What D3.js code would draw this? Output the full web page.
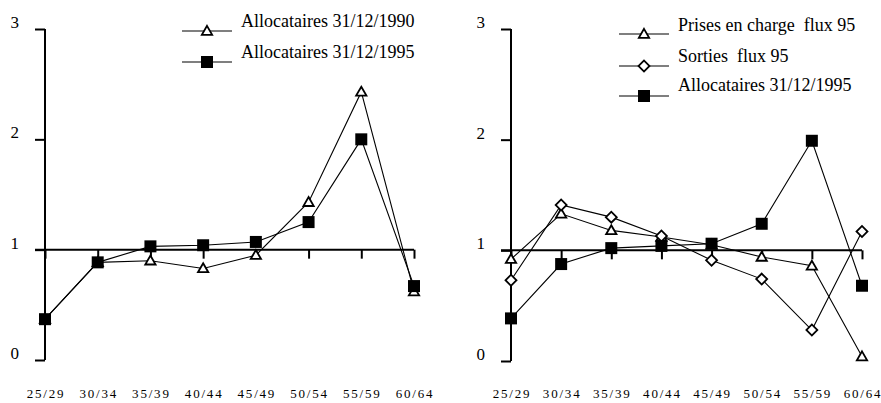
<!DOCTYPE html>
<html>
<head>
<meta charset="utf-8">
<script src="https://cdn.jsdelivr.net/npm/d3@7"></script>
<style>
  html, body { margin: 0; padding: 0; background: #fff; }
  svg { display: block; }
</style>
</head>
<body>
<svg id="chart" width="881" height="403"></svg>
<script>
// Age groups shared by both panels
const ageGroups = ["25/29", "30/34", "35/39", "40/44", "45/49", "50/54", "55/59", "60/64"];
const yTicks = [0, 1, 2, 3];

// Left panel: stock of recipients
const alloc1990 = [0.37, 0.885, 0.90, 0.83, 0.95, 1.43, 2.43, 0.62];
const alloc1995 = [0.37, 0.885, 1.03, 1.04, 1.07, 1.25, 2.00, 0.67];

// Right panel: 1995 flows versus stock
const prises95 = [0.92, 1.33, 1.18, 1.12, 1.05, 0.94, 0.86, 0.04];
const sorties95 = [0.73, 1.41, 1.30, 1.13, 0.91, 0.74, 0.28, 1.17];
const allocR1995 = [0.385, 0.876, 1.02, 1.04, 1.06, 1.24, 1.99, 0.68];

const leftSeries = [
  { name: "Allocataires 31/12/1990", marker: "triangle", values: alloc1990 },
  { name: "Allocataires 31/12/1995", marker: "square", values: alloc1995 }
];
const rightSeries = [
  { name: "Prises en charge  flux 95", marker: "triangle", values: prises95 },
  { name: "Sorties  flux 95", marker: "diamond", values: sorties95 },
  { name: "Allocataires 31/12/1995", marker: "square", values: allocR1995 }
];

const FONT = "'Liberation Serif', 'DejaVu Serif', 'Times New Roman', serif";

const svg = d3.select("#chart");

const symbols = {
  triangle: d3.symbol().type(d3.symbolTriangle).size(46)(),
  square: d3.symbol().type(d3.symbolSquare).size(144)(),
  diamond: d3.symbol().type(d3.symbolSquare).size(60)()
};

function drawMarker(g, type, x, y) {
  const p = g.append("path")
    .attr("d", symbols[type])
    .attr("stroke", "#000");
  if (type === "square") {
    p.attr("fill", "#000").attr("stroke", "none")
      .attr("transform", `translate(${x},${y})`);
  } else if (type === "diamond") {
    p.attr("fill", "#fff").attr("stroke-width", 1.8)
      .attr("transform", `translate(${x},${y}) rotate(45)`);
  } else {
    p.attr("fill", "#fff").attr("stroke-width", 1.8)
      .attr("transform", `translate(${x},${y + 0.8})`);
  }
}

function label(g, x, y, size, txt) {
  return g.append("text")
    .attr("x", x).attr("y", y)
    .attr("font-family", FONT)
    .attr("font-size", size)
    .attr("fill", "#000")
    .style("white-space", "pre")
    .text(txt);
}

function panel(opts) {
  const g = svg.append("g");
  const x = d3.scalePoint().domain(ageGroups).range([opts.x0, opts.x1]);
  const y = d3.scaleLinear().domain([0, 3]).range([opts.yBottom, 29]);

  // Vertical axis with left-pointing ticks
  const yAxis = g.append("g")
    .attr("transform", `translate(${opts.x0},0)`)
    .call(d3.axisLeft(y).tickValues(yTicks).tickSize(10).tickSizeOuter(0).tickFormat(""));
  yAxis.selectAll("path, line").attr("stroke", "#000").attr("stroke-width", 2);
  yAxis.select(".domain").attr("d", `M0,${y(0)}V${y(3)}`);

  // Tick labels sit just above each tick
  yTicks.forEach(t => {
    label(g, opts.x0 - 26, y(t) - 1, 17, String(t)).attr("text-anchor", "end");
  });

  // Reference line at 1 with downward category ticks
  const xAxis = g.append("g")
    .attr("transform", `translate(0,${y(1)})`)
    .call(d3.axisBottom(x).tickSize(9).tickSizeOuter(0).tickFormat(""));
  xAxis.select(".domain").attr("d", `M${opts.x0 - 10},0H${opts.x1}`);
  xAxis.selectAll("path, line").attr("stroke", "#000").attr("stroke-width", 2);

  // Category labels along the bottom
  ageGroups.forEach(a => {
    label(g, x(a) + 1, 398, 13, a)
      .attr("text-anchor", "middle")
      .attr("letter-spacing", 1.8);
  });

  const line = d3.line().x((d, i) => x(ageGroups[i])).y(d => y(d));

  opts.series.forEach(s => {
    g.append("path")
      .attr("d", line(s.values))
      .attr("fill", "none")
      .attr("stroke", "#000")
      .attr("stroke-width", 1.1);
  });
  opts.series.forEach(s => {
    s.values.forEach((v, i) => drawMarker(g, s.marker, x(ageGroups[i]), y(v)));
  });

  // Legend
  opts.series.forEach((s, i) => {
    const ly = opts.legY[i];
    g.append("line")
      .attr("x1", opts.legX).attr("x2", opts.legX + 50)
      .attr("y1", ly).attr("y2", ly)
      .attr("stroke", "#000").attr("stroke-width", 1.1);
    drawMarker(g, s.marker, opts.legX + 25, ly);
    label(g, opts.legX + 59, opts.legTextY[i], 18, s.name);
  });
}

panel({
  x0: 45, x1: 414, yBottom: 360,
  series: leftSeries,
  legX: 182, legY: [31, 62], legTextY: [27, 58]
});

panel({
  x0: 511, x1: 862, yBottom: 361,
  series: rightSeries,
  legX: 619, legY: [34, 66, 96], legTextY: [31, 62, 91]
});
</script>
</body>
</html>
